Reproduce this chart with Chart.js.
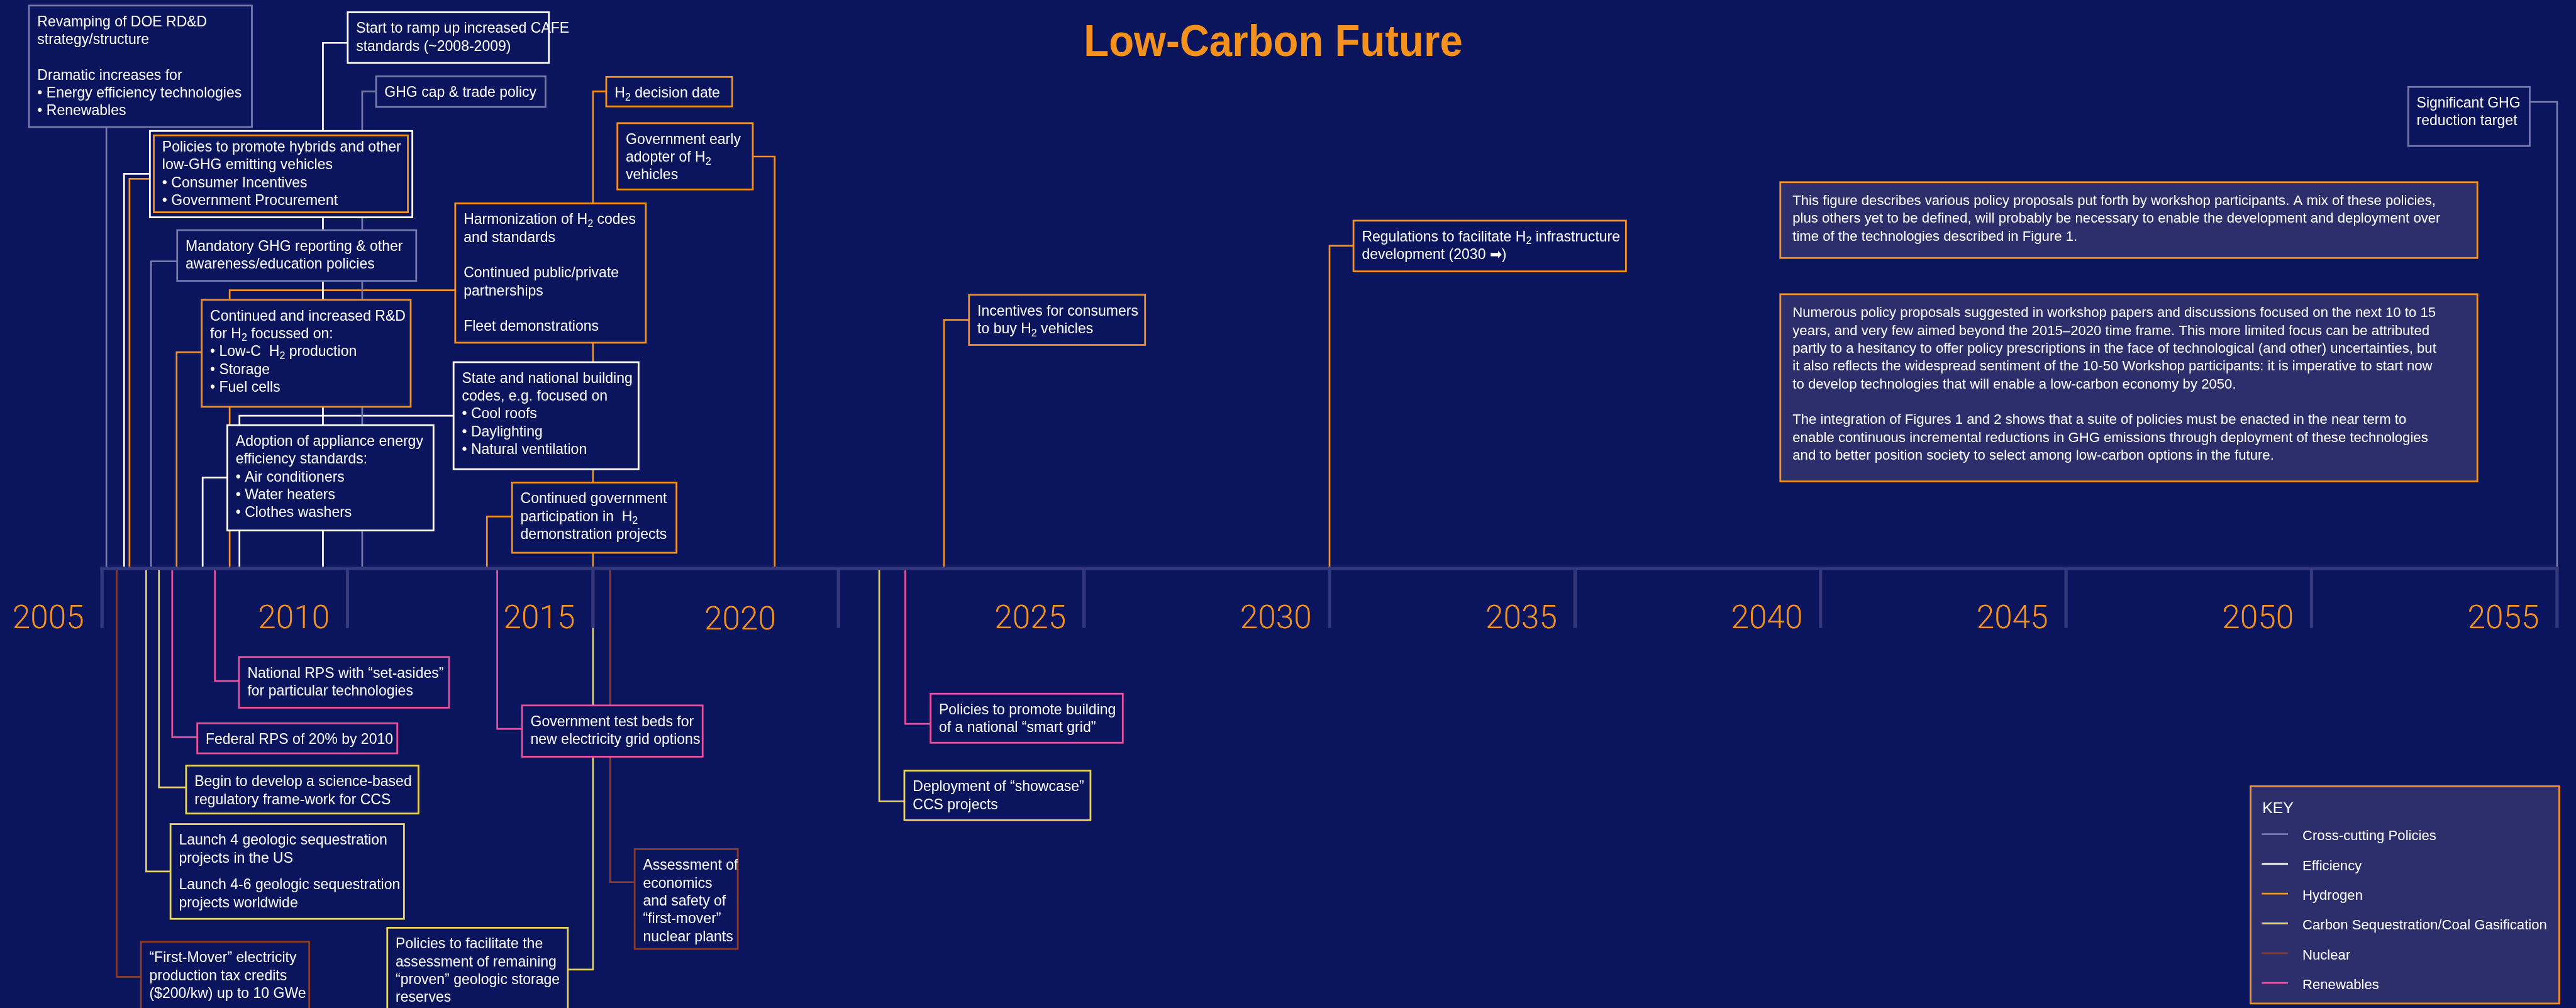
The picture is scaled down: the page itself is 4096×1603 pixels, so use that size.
<!DOCTYPE html>
<html>
<head>
<meta charset="utf-8">
<script src="https://cdn.jsdelivr.net/npm/chart.js@4.4.1/dist/chart.umd.min.js"></script>
<style>
  html, body { margin: 0; padding: 0; background: #0b155e; }
  #wrap { width: 4096px; height: 1603px; }
</style>
</head>
<body>
<div id="wrap"><canvas id="policyChart" width="4096" height="1603"></canvas></div>
<script>
// --- Data ---
const yearTicks = [2005, 2010, 2015, 2020, 2025, 2030, 2035, 2040, 2045, 2050, 2055];

const categories = [
    'Cross-cutting Policies', 'Efficiency', 'Hydrogen',
    'Carbon Sequestration/Coal Gasification', 'Nuclear', 'Renewables'
];

// where each policy meets the timeline (year) and its category index
const eventYears = [
    2005.09, 2009.5, 2010.3, 2005.45, 2005.56, 2006.0, 2006.52, 2007.05, 2007.6,
    2007.8, 2012.84, 2015.0, 2018.7, 2022.15, 2030, 2055,
    2005.3, 2005.9, 2006.16, 2006.43, 2007.3, 2013.05, 2015.0, 2015.35, 2020.83, 2021.36
];
const eventCats = [0, 1, 0, 1, 2, 0, 2, 1, 2, 1, 2, 2, 2, 2, 2, 0, 4, 3, 3, 5, 5, 5, 3, 4, 3, 5];

// "_2" = subscript 2
const eventTexts = [
    ['Revamping of DOE RD&D', 'strategy/structure', '', 'Dramatic increases for', '• Energy efficiency technologies', '• Renewables'],
    ['Start to ramp up increased CAFE', 'standards (~2008-2009)'],
    ['GHG cap & trade policy'],
    [],
    ['Policies to promote hybrids and other', 'low-GHG emitting vehicles', '• Consumer Incentives', '• Government Procurement'],
    ['Mandatory GHG reporting & other', 'awareness/education policies'],
    ['Continued and increased R&D', 'for H_2 focussed on:', '• Low-C  H_2 production', '• Storage', '• Fuel cells'],
    ['Adoption of appliance energy', 'efficiency standards:', '• Air conditioners', '• Water heaters', '• Clothes washers'],
    ['Harmonization of H_2 codes', 'and standards', '', 'Continued public/private', 'partnerships', '', 'Fleet demonstrations'],
    ['State and national building', 'codes, e.g. focused on', '• Cool roofs', '• Daylighting', '• Natural ventilation'],
    ['Continued government', 'participation in  H_2', 'demonstration projects'],
    ['H_2 decision date'],
    ['Government early', 'adopter of H_2', 'vehicles'],
    ['Incentives for consumers', 'to buy H_2 vehicles'],
    ['Regulations to facilitate H_2 infrastructure', 'development (2030 \u27A1)'],
    ['Significant GHG', 'reduction target'],
    ['\u201CFirst-Mover\u201D electricity', 'production tax credits', '($200/kw) up to 10 GWe'],
    ['Launch 4 geologic sequestration', 'projects in the US', '', 'Launch 4-6 geologic sequestration', 'projects worldwide'],
    ['Begin to develop a science-based', 'regulatory frame-work for CCS'],
    ['Federal RPS of 20% by 2010'],
    ['National RPS with \u201Cset-asides\u201D', 'for particular technologies'],
    ['Government test beds for', 'new electricity grid options'],
    ['Policies to facilitate the', 'assessment of remaining', '\u201Cproven\u201D geologic storage', 'reserves'],
    ['Assessment of', 'economics', 'and safety of', '\u201Cfirst-mover\u201D', 'nuclear plants'],
    ['Deployment of \u201Cshowcase\u201D', 'CCS projects'],
    ['Policies to promote building', 'of a national \u201Csmart grid\u201D']
];

const noteTexts = [
    [
        'This figure describes various policy proposals put forth by workshop participants. A mix of these policies,',
        'plus others yet to be defined, will probably be necessary to enable the development and deployment over',
        'time of the technologies described in Figure 1.'
    ],
    [
        'Numerous policy proposals suggested in workshop papers and discussions focused on the next 10 to 15',
        'years, and very few aimed beyond the 2015\u20132020 time frame. This more limited focus can be attributed',
        'partly to a hesitancy to offer policy prescriptions in the face of technological (and other) uncertainties, but',
        'it also reflects the widespread sentiment of the 10-50 Workshop participants: it is imperative to start now',
        'to develop technologies that will enable a low-carbon economy by 2050.',
        '',
        'The integration of Figures 1 and 2 shows that a suite of policies must be enacted in the near term to',
        'enable continuous incremental reductions in GHG emissions through deployment of these technologies',
        'and to better position society to select among low-carbon options in the future.'
    ]
];

const titleText = 'Low-Carbon Future';

// --- Layout (reference pixels of the 4623 x 1809 original) ---
const REF_W = 4623, REF_H = 1809;
const AXIS_TOP = 1017, AXIS_BOT = 1023, TICK_BOT = 1127;
const TICK0_PX = 183, PX_PER_YEAR = 88.12;          // 2005 tick sits at x=183
const X_MIN = 2005 - TICK0_PX / PX_PER_YEAR;
const X_MAX = X_MIN + REF_W / PX_PER_YEAR;
const pxToYear = px => X_MIN + px / PX_PER_YEAR;

// [left, top, right, bottom, connector y, side, blank-line height, first baseline offset]
const boxLayout = [
    [52, 10, 452, 228, 0, 'B'],
    [624, 22, 985, 113, 77, 'L'],
    [675, 137, 979, 192, 164, 'L'],
    [269, 235, 740, 390, 312, 'L'],
    [276, 243, 732, 381, 321, 'L', 32, 29],
    [318, 413, 747, 504, 469, 'L'],
    [362, 538, 737, 730, 632, 'L'],
    [408, 763, 778, 952, 857, 'L'],
    [817, 365, 1159, 615, 521, 'L'],
    [814, 650, 1146, 842, 746, 'L'],
    [919, 866, 1214, 992, 927, 'L'],
    [1088, 138, 1314, 191, 164, 'L'],
    [1108, 221, 1351, 340, 281, 'R'],
    [1739, 529, 2055, 619, 574, 'L'],
    [2429, 396, 2918, 487, 441, 'L'],
    [4322, 156, 4540, 262, 183, 'R'],
    [253, 1690, 555, 1830, 1753, 'L'],
    [306, 1479, 725, 1649, 1564, 'L', 16],
    [334, 1374, 751, 1460, 1413, 'L'],
    [354, 1298, 713, 1352, 1323, 'L'],
    [429, 1179, 806, 1270, 1222, 'L'],
    [937, 1266, 1261, 1358, 1308, 'L'],
    [695, 1665, 1019, 1830, 1740, 'R'],
    [1139, 1524, 1324, 1703, 1583, 'L'],
    [1623, 1383, 1957, 1472, 1438, 'L'],
    [1670, 1245, 2015, 1333, 1299, 'L']
];
const noteLayout = [[3195, 327, 4446, 463], [3195, 528, 4446, 864]];
const keyLayout = [4039, 1411, 4593, 1801];

const BG = '#0b155e';
const PANEL = '#2d2f6d';
const AXIS_COLOR = '#33377b';
const ORANGE = '#f5921e';
const categoryColors = ['#7478ab', '#ffffff', '#f5921e', '#e9d35b', '#8c3b2b', '#e8519b'];
const FONT = '"Liberation Sans", Arial, sans-serif';
const YEAR_FONT = 'Roboto, "Liberation Sans", Arial, sans-serif';

// --- Connector lines as datasets ---
const datasets = eventYears.map((yr, i) => {
    const [x0, y0, x1, y1, cy, side] = boxLayout[i];
    const yAxis = y0 > AXIS_BOT ? AXIS_BOT : AXIS_TOP;
    let pts;
    if (side === 'B') {
        pts = [{ x: yr, y: yAxis }, { x: yr, y: y1 }];
    } else {
        const edge = side === 'L' ? x0 : x1;
        pts = [{ x: yr, y: yAxis }, { x: yr, y: cy }, { x: pxToYear(edge), y: cy }];
    }
    return {
        label: categories[eventCats[i]],
        data: pts,
        showLine: true,
        borderColor: categoryColors[eventCats[i]],
        borderWidth: 2.7,
        borderJoinStyle: 'miter',
        pointRadius: 0,
        tension: 0,
        clip: false
    };
});

// text with "_2" subscripts
function drawRich(ctx, str, x, y, size) {
    const parts = str.split(/_(\d)/);
    let cx = x;
    parts.forEach((p, k) => {
        if (!p) return;
        if (k % 2) {
            ctx.font = `${size * 0.7}px ${FONT}`;
            ctx.fillText(p, cx, y + size * 0.2);
        } else {
            ctx.font = `${size}px ${FONT}`;
            ctx.fillText(p, cx, y);
        }
        cx += ctx.measureText(p).width;
    });
}

const timelinePlugin = {
    id: 'timeline',
    beforeDraw(chart) {
        const ctx = chart.ctx;
        ctx.save();
        ctx.fillStyle = BG;
        ctx.fillRect(0, 0, chart.width, chart.height);
        ctx.restore();
    },
    afterDatasetsDraw(chart) {
        const ctx = chart.ctx;
        const xs = chart.scales.x, ys = chart.scales.y;
        const S = chart.width / REF_W;
        const Y = v => ys.getPixelForValue(v);
        ctx.save();

        // axis bar and ticks
        ctx.fillStyle = AXIS_COLOR;
        const xStart = xs.getPixelForValue(yearTicks[0]) - 3 * S;
        const xEnd = xs.getPixelForValue(yearTicks[yearTicks.length - 1]) + 3 * S;
        ctx.fillRect(xStart, Y(AXIS_TOP), xEnd - xStart, Y(AXIS_BOT) - Y(AXIS_TOP));
        yearTicks.forEach(t => {
            const px = xs.getPixelForValue(t);
            ctx.fillRect(px - 3 * S, Y(AXIS_TOP), 6 * S, Y(TICK_BOT) - Y(AXIS_TOP));
        });

        // year labels
        ctx.fillStyle = ORANGE;
        ctx.textAlign = 'right';
        ctx.textBaseline = 'alphabetic';
        ctx.font = `300 ${58 * S}px ${YEAR_FONT}`;
        yearTicks.forEach(t => {
            const shift = t === 2020 ? 112 : 32;
            const base = t === 2020 ? 1130 : TICK_BOT;
            ctx.fillText(String(t), xs.getPixelForValue(t) - shift * S, Y(base));
        });

        // policy boxes
        ctx.textAlign = 'left';
        boxLayout.forEach((b, i) => {
            const [x0, y0, x1, y1, , , blank = 32, first = 37] = b;
            ctx.fillStyle = BG;
            ctx.fillRect(x0 * S, Y(y0), (x1 - x0) * S, Y(y1) - Y(y0));
            ctx.strokeStyle = categoryColors[eventCats[i]];
            ctx.lineWidth = 2.8;
            ctx.strokeRect(x0 * S, Y(y0), (x1 - x0) * S, Y(y1) - Y(y0));
            ctx.fillStyle = '#ffffff';
            let yy = y0 + first;
            eventTexts[i].forEach(line => {
                if (line === '') { yy += blank; return; }
                drawRich(ctx, line, (x0 + 15) * S, Y(yy), 26 * S);
                yy += 32;
            });
        });

        // explanatory notes
        noteLayout.forEach((b, i) => {
            const [x0, y0, x1, y1] = b;
            ctx.fillStyle = PANEL;
            ctx.fillRect(x0 * S, Y(y0), (x1 - x0) * S, Y(y1) - Y(y0));
            ctx.strokeStyle = ORANGE;
            ctx.lineWidth = 2.8;
            ctx.strokeRect(x0 * S, Y(y0), (x1 - x0) * S, Y(y1) - Y(y0));
            ctx.fillStyle = '#ffffff';
            ctx.font = `${25 * S}px ${FONT}`;
            let yy = y0 + 41;
            noteTexts[i].forEach(line => {
                ctx.fillText(line, (x0 + 22) * S, Y(yy));
                yy += 32;
            });
        });

        // title
        ctx.fillStyle = ORANGE;
        ctx.font = `bold ${79 * S}px ${FONT}`;
        const tw = ctx.measureText(titleText).width;
        const want = 680 * S;
        ctx.save();
        ctx.translate(2285 * S, Y(100));
        ctx.scale(want / tw, 1);
        ctx.textAlign = 'center';
        ctx.fillText(titleText, 0, 0);
        ctx.restore();

        // key
        const [k0, k1, k2, k3] = keyLayout;
        ctx.fillStyle = PANEL;
        ctx.fillRect(k0 * S, Y(k1), (k2 - k0) * S, Y(k3) - Y(k1));
        ctx.strokeStyle = ORANGE;
        ctx.lineWidth = 2.8;
        ctx.strokeRect(k0 * S, Y(k1), (k2 - k0) * S, Y(k3) - Y(k1));
        ctx.fillStyle = '#ffffff';
        ctx.font = `${28 * S}px ${FONT}`;
        ctx.fillText('KEY', 4060 * S, Y(1459));
        ctx.font = `${25 * S}px ${FONT}`;
        categories.forEach((c, i) => {
            const cy = 1497 + i * 53.4;
            ctx.strokeStyle = categoryColors[i];
            ctx.lineWidth = 2.8;
            ctx.beginPath();
            ctx.moveTo(4059 * S, Y(cy));
            ctx.lineTo(4106 * S, Y(cy));
            ctx.stroke();
            ctx.fillStyle = '#ffffff';
            ctx.fillText(c, 4132 * S, Y(cy + 11));
        });

        ctx.restore();
    }
};

new Chart(document.getElementById('policyChart'), {
    type: 'scatter',
    data: { datasets: datasets },
    options: {
        responsive: false,
        animation: false,
        devicePixelRatio: 1,
        layout: { padding: 0 },
        plugins: { legend: { display: false }, tooltip: { enabled: false } },
        scales: {
            x: { type: 'linear', min: X_MIN, max: X_MAX, display: false },
            y: { type: 'linear', min: 0, max: REF_H, reverse: true, display: false }
        }
    },
    plugins: [timelinePlugin]
});
</script>
</body>
</html>
